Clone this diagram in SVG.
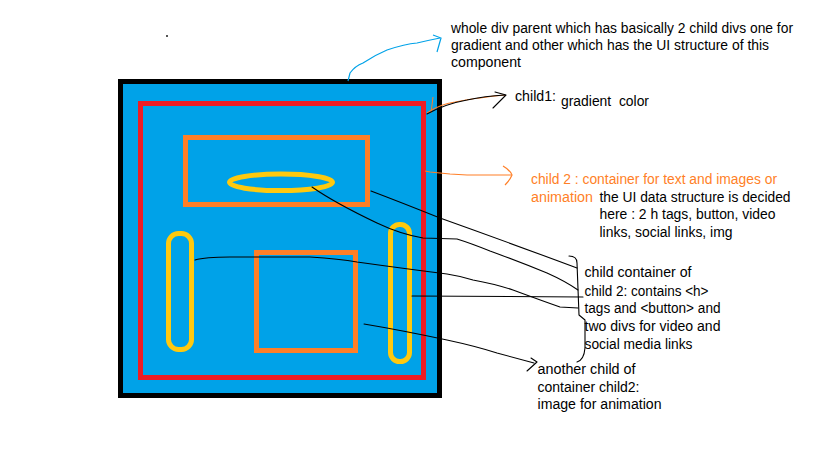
<svg xmlns="http://www.w3.org/2000/svg" width="819" height="460" viewBox="0 0 819 460">
<style>
  .t { font-family: "Liberation Sans", Arial, sans-serif; font-size: 14px; fill: #000; }
  .o { fill: #FF7F27; }
  .ln { fill: none; stroke: #000; stroke-width: 1.1; stroke-linejoin: round; stroke-linecap: round; }
  .yl { fill: none; stroke: #FFC90E; stroke-width: 5; }
  .or { fill: none; stroke: #FF7F27; stroke-width: 5; }
</style>
<rect x="0" y="0" width="819" height="460" fill="#fff"/>
<rect x="166" y="35" width="2" height="2" fill="#555"/>

<g id="parent">
  <rect x="120.5" y="81.5" width="319" height="314" fill="#00A2E8" stroke="#000" stroke-width="5"/>
</g>
<g id="child1">
  <rect x="140.5" y="103.5" width="283" height="274" fill="none" stroke="#ED1C24" stroke-width="5"/>
</g>
<g id="child2-container">
  <rect class="or" x="185.5" y="137.5" width="182" height="67"/>
</g>
<g id="heading-ellipse">
  <ellipse class="yl" cx="281" cy="182.3" rx="51.5" ry="8.3"/>
</g>
<g id="left-pill">
  <rect class="yl" x="168.5" y="233.5" width="23" height="116" rx="10"/>
</g>
<g id="image-square">
  <rect class="or" x="256.5" y="252.5" width="99" height="98"/>
</g>
<g id="right-pill">
  <rect class="yl" x="390.5" y="224.5" width="19" height="137" rx="9"/>
</g>

<g id="connectors">
  <path d="M348,81 L350,73 Q355,66 363,63 Q375,55 387,50 Q405,44 417,43 Q430,40 440,38" fill="none" stroke="#00A2E8" stroke-width="1.2"/>
  <path d="M433,35 L441,38 L437,52" fill="none" stroke="#00A2E8" stroke-width="1.2"/>
  <path d="M427,113 Q440,104 455,102 Q470,99 480,98 Q492,96 505,95" fill="none" stroke="#FF7F27" stroke-width="1.2"/>
  <path d="M433,97 L431,113" fill="none" stroke="#FF7F27" stroke-width="1"/>
  <path d="M427,114 Q445,104 467,100 Q485,96 505,95" class="ln"/>
  <path d="M495,92 L506,95 L493,108" class="ln"/>
  <path d="M425,171 L430,172 L440,173 L450,174 L467,175 L511,175" fill="none" stroke="#FF7F27" stroke-width="1.2"/>
  <path d="M503,166 Q510,170 512,175 Q510,180 505,185" fill="none" stroke="#FF7F27" stroke-width="1.2"/>
  <path class="ln" d="M371,191 Q400,202 440,218 Q510,243 577,268"/>
  <path class="ln" d="M312,187 Q335,203 377,223 Q400,234 423,238 L457,239 Q470,243 490,251 Q520,262 547,273 Q565,281 578,290"/>
  <path class="ln" d="M195,260 Q205,257 230,257 L310,257 Q340,259 357,262 Q400,268 447,274 Q460,276 473,280 Q495,284 513,290 Q540,300 560,307 L578,308"/>
  <path class="ln" d="M412,296 L583,297"/>
  <path class="ln" d="M364,324 Q400,330 447,340 Q475,346 497,353 L534,363"/>
  <path class="ln" d="M531,358 L537,362 L527,371"/>
  <path class="ln" d="M569,256 Q577,256 577,263 L579,315 L585,320 L585,348 Q584,360 577,362"/>
</g>

<g id="label-parent">
  <text class="t" x="451" y="33" textLength="342" lengthAdjust="spacingAndGlyphs">whole div parent which has basically 2 child divs one for</text>
  <text class="t" x="451" y="50" textLength="318" lengthAdjust="spacingAndGlyphs">gradient and other which has the UI structure of this</text>
  <text class="t" x="451" y="67" textLength="70" lengthAdjust="spacingAndGlyphs">component</text>
</g>
<g id="label-child1">
  <text class="t" x="515" y="100.5" textLength="41" lengthAdjust="spacingAndGlyphs">child1:</text>
  <text class="t" x="561" y="106" textLength="88" lengthAdjust="spacingAndGlyphs" xml:space="preserve">gradient  color</text>
</g>
<g id="label-child2">
  <text class="t o" x="531" y="184" textLength="246" lengthAdjust="spacingAndGlyphs">child 2 : container for text and images or</text>
  <text class="t o" x="531" y="201.7" textLength="62" lengthAdjust="spacingAndGlyphs">animation</text>
  <text class="t" x="599.5" y="201.7" textLength="191" lengthAdjust="spacingAndGlyphs">the UI data structure is decided</text>
  <text class="t" x="599.5" y="219.3" textLength="176" lengthAdjust="spacingAndGlyphs">here : 2 h tags, button, video</text>
  <text class="t" x="599.5" y="237" textLength="133" lengthAdjust="spacingAndGlyphs">links, social links, img</text>
</g>
<g id="label-inner-container">
  <text class="t" x="584.5" y="277.3" textLength="107" lengthAdjust="spacingAndGlyphs">child container of</text>
  <text class="t" x="584.5" y="295.7" textLength="124" lengthAdjust="spacingAndGlyphs">child 2: contains &lt;h&gt;</text>
  <text class="t" x="584.5" y="313.3" textLength="136" lengthAdjust="spacingAndGlyphs">tags and &lt;button&gt; and</text>
  <text class="t" x="584.5" y="331" textLength="136" lengthAdjust="spacingAndGlyphs">two divs for video and</text>
  <text class="t" x="584.5" y="349" textLength="108" lengthAdjust="spacingAndGlyphs">social media links</text>
</g>
<g id="label-image">
  <text class="t" x="537.5" y="374" textLength="98" lengthAdjust="spacingAndGlyphs">another child of</text>
  <text class="t" x="537.5" y="391.7" textLength="102" lengthAdjust="spacingAndGlyphs">container child2:</text>
  <text class="t" x="537.5" y="409.3" textLength="124" lengthAdjust="spacingAndGlyphs">image for animation</text>
</g>
</svg>
